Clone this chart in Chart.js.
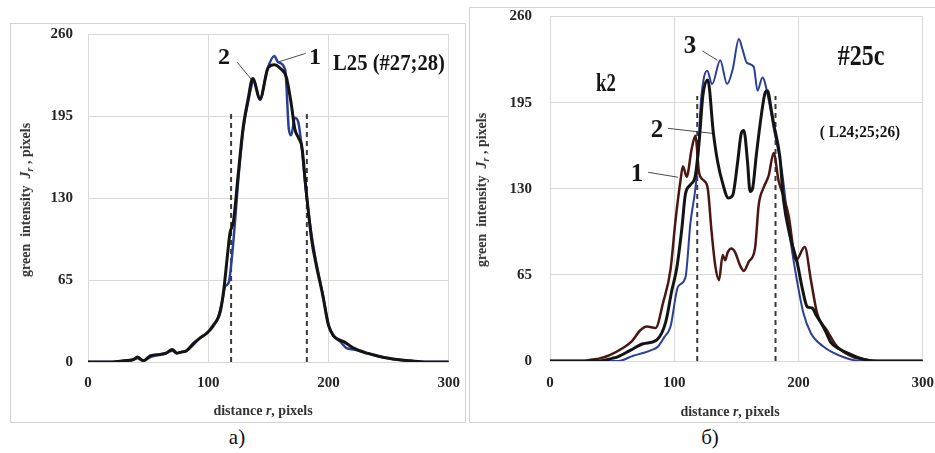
<!DOCTYPE html>
<html>
<head>
<meta charset="utf-8">
<script src="https://cdn.jsdelivr.net/npm/chart.js@4.4.1/dist/chart.umd.min.js"></script>
<style>
  body { margin: 0; width: 935px; height: 453px; background: #fff; position: relative; overflow: hidden; font-family: "Liberation Serif", serif; }
  .frame { position: absolute; border: 1px solid #d2d2d2; box-sizing: border-box; }
  canvas { position: absolute; }
  .lbl { position: absolute; white-space: nowrap; font-weight: bold; color: #151515; line-height: 1; transform: translate(-50%, -50%); }
  .axt { position: absolute; white-space: nowrap; font-weight: bold; color: #333; font-size: 14px; line-height: 1; transform: translate(-50%, -50%); }
  .axt.y { transform: translate(-50%, -50%) rotate(-90deg); }
  .axt sub { font-size: 10px; vertical-align: -3px; font-style: italic; }
  .cap { position: absolute; font-size: 21px; color: #111; transform: translate(-50%, -50%); line-height: 1; }
</style>
</head>
<body>
<div class="frame" style="left:10px;top:23px;width:456px;height:400px"></div>
<div class="frame" style="left:469px;top:7px;width:480px;height:416px"></div>

<!-- canvases are offset so that the plot areas land where the reference has them -->
<canvas id="leftChart" width="463" height="409" style="left:11px;top:12px"></canvas>
<canvas id="rightChart" width="479" height="430" style="left:470px;top:-9px"></canvas>

<!-- axis titles -->
<div class="axt y" style="left:27px;top:200px">green&nbsp;&nbsp;intensity&nbsp;&nbsp;<i>J</i><sub>r</sub> , pixels</div>
<div class="axt" style="left:263px;top:411px">distance <i>r</i>, pixels</div>
<div class="axt y" style="left:483px;top:190px">green&nbsp;&nbsp;intensity&nbsp;&nbsp;<i>J</i><sub>r</sub> , pixels</div>
<div class="axt" style="left:730px;top:412px">distance <i>r</i>, pixels</div>

<!-- annotations -->
<div class="lbl" style="left:224px;top:56px;font-size:24px">2</div>
<div class="lbl" style="left:315px;top:56px;font-size:24px">1</div>
<div class="lbl" style="left:389px;top:62px;font-size:24px;transform:translate(-50%,-50%) scaleX(0.86)">L25 (#27;28)</div>

<div class="lbl" style="left:690px;top:44px;font-size:25px">3</div>
<div class="lbl" style="left:657px;top:128px;font-size:25px">2</div>
<div class="lbl" style="left:637px;top:172px;font-size:25px">1</div>
<div class="lbl" style="left:606px;top:82px;font-size:25px;transform:translate(-50%,-50%) scaleX(0.75)">k2</div>
<div class="lbl" style="left:861px;top:55px;font-size:30px;transform:translate(-50%,-50%) scaleX(0.8)">#25c</div>
<div class="lbl" style="left:860px;top:131px;font-size:17px;transform:translate(-50%,-50%) scaleX(0.9)">( L24;25;26)</div>

<div class="cap" style="left:237px;top:437px">a)</div>
<div class="cap" style="left:710px;top:437px">б)</div>

<script>
// ---- panel a) : L25 (#27;28) ----
const aBlackR = [0, 10, 20, 30, 38, 41, 46, 52, 60, 65, 70, 74, 78, 82, 88, 93, 99, 104, 110, 113, 116, 118, 121, 125, 129, 133, 137, 143, 150, 155, 160, 165, 169, 172, 175, 178, 181, 186, 190, 195, 200, 204, 208, 213, 221, 232, 240, 250, 257, 268, 280, 290, 300];
const aBlackJ = [0, 0, 0, 1, 2, 4, 1, 5, 6, 7, 10, 7, 8, 9, 15, 19, 23, 29, 40, 58, 85, 102, 112, 150, 186, 208, 225, 209, 234, 236, 233, 226, 205, 185, 178, 170, 140, 97, 76, 54, 29, 21, 18, 16, 11, 7, 5, 3, 2, 1, 0, 0, 0];

const aBlueR = [0, 10, 20, 30, 38, 41, 46, 52, 60, 65, 70, 74, 78, 82, 88, 93, 99, 104, 108, 112, 114, 117, 121, 125, 129, 133, 138, 143, 149, 155, 158, 164, 167, 169, 172, 175, 178, 181, 186, 190, 195, 200, 205, 210, 215, 221, 232, 240, 250, 257, 268, 280, 290, 300];
const aBlueJ = [0, 0, 0, 1, 2, 3, 1, 4, 6, 7, 9, 7, 8, 9, 14, 19, 23, 28, 35, 50, 60, 63, 97, 145, 184, 206, 223, 208, 232, 243, 238, 232, 185, 180, 194, 190, 168, 138, 100, 78, 55, 30, 20, 16, 11, 10, 7, 5, 3, 2, 1, 0, 0, 0];

// ---- panel б) : #25c (L24;25;26) ----
const bBlueR = [0, 55, 67, 75, 81, 87, 92, 97, 103, 109, 113, 117, 119, 121, 123.5, 126.5, 130.5, 137, 142.5, 147, 152, 155, 158.5, 164, 167, 171, 176, 180, 187, 192, 196, 204, 210, 220, 236, 250, 300];
const bBlueJ = [0, 0, 4, 6, 8, 11, 18, 26, 56, 63, 104, 130, 150, 190, 212, 219, 209, 227, 209, 220, 243, 235, 225, 222, 204, 214, 197, 176, 141, 101, 76, 36, 21, 11, 3, 0, 0];

const bBlackR = [0, 40, 50, 54, 64.5, 75, 86, 93, 98, 102, 106, 109, 113, 117, 120, 123, 127, 131.5, 135, 139, 143.5, 147, 151, 154, 156, 159, 161, 163, 166, 170, 173, 175, 178, 180, 185, 188, 193, 199, 203, 207, 211, 214, 218, 222, 226, 233, 242, 250, 260, 300];
const bBlackJ = [0, 0, 2, 3, 8, 13, 16, 29, 53, 70, 99, 126, 133, 140, 165, 200, 212, 172, 150, 134, 123, 125, 150, 172, 174, 150, 128, 130, 155, 185, 202, 204, 190, 179, 154, 121, 95, 74, 55, 41, 40, 35, 29, 22, 14, 9, 5, 2, 0, 0];

const bBrownR = [0, 28, 33, 40, 48, 59, 66, 72.5, 78, 85, 91, 97, 101, 105, 107, 110, 114, 117, 120, 124, 127, 130, 133, 136, 139, 141, 143, 146, 149, 153, 156, 160, 165, 168, 172, 176, 180, 184, 188, 192, 198, 205, 210, 215, 223, 231, 244, 255, 265, 300];
const bBrownJ = [0, 0, 1, 2, 4.5, 10, 15, 23, 26, 25, 44, 69, 106, 136, 147, 139, 160, 170, 142, 136, 130, 98, 72, 61, 80, 76, 82, 85, 82, 72, 68, 75, 85, 118, 131, 140, 157, 136, 124, 110, 76, 86, 61, 36, 23, 11, 3, 1, 0, 0];

// dashed guide positions and their height
const aGuides = [119, 182];
const bGuides = [118.5, 181.5];
const guideTop = 200;

// label leader lines: [r0, J0, r1, J1]
const aLeaders = [[124, 238, 137, 223], [181, 245, 157.5, 238]];
const bLeaders = [[122.6, 234, 134.7, 227], [95, 175.6, 130.6, 171.8], [79, 142.4, 103, 138.7]];

const pts = (xs, ys) => xs.map((x, i) => ({ x: x, y: ys[i] }));

function curve(xs, ys, color, width) {
    return { data: pts(xs, ys), borderColor: color, borderWidth: width, pointRadius: 0, cubicInterpolationMode: 'monotone', fill: false };
}

function extras(guides, leaders) {
    const out = [];
    guides.forEach(g => out.push({ data: pts([g, g], [0, guideTop]), borderColor: '#3a3a3a', borderWidth: 2, borderDash: [5, 4], pointRadius: 0 }));
    leaders.forEach(l => out.push({ data: pts([l[0], l[2]], [l[1], l[3]]), borderColor: '#4a4a4a', borderWidth: 1, pointRadius: 0 }));
    return out;
}

const tickFont = { family: 'Liberation Serif', size: 15, weight: 'bold', lineHeight: 1 };

function profileChart(id, datasets, box) {
    return new Chart(document.getElementById(id), {
        type: 'line',
        data: { datasets: datasets },
        options: {
            responsive: false,
            animation: false,
            devicePixelRatio: 1,
            layout: { padding: 0 },
            plugins: { legend: { display: false }, tooltip: { enabled: false } },
            scales: {
                x: {
                    type: 'linear', min: 0, max: 300,
                    ticks: { stepSize: 100, font: tickFont, color: '#262626', padding: box.xPad, maxRotation: 0 },
                    grid: { color: '#d9d9d9', drawTicks: false },
                    border: { color: '#d9d9d9' },
                    afterFit: s => { s.height = box.xH; }
                },
                y: {
                    min: 0, max: 260,
                    ticks: { stepSize: 65, font: tickFont, color: '#262626', padding: box.yPad },
                    grid: { color: '#d9d9d9', drawTicks: false },
                    border: { color: '#d9d9d9' },
                    afterFit: s => { s.width = box.yW; }
                }
            }
        }
    });
}

// first dataset is drawn on top
profileChart('leftChart', [
    curve(aBlackR, aBlackJ, '#141414', 3),
    curve(aBlueR, aBlueJ, '#2b3f94', 2.5),
    ...extras(aGuides, aLeaders)
], { xH: 59, yW: 77, xPad: 14, yPad: 15 });

profileChart('rightChart', [
    curve(bBlackR, bBlackJ, '#141414', 3),
    curve(bBrownR, bBrownJ, '#4a1712', 2.5),
    curve(bBlueR, bBlueJ, '#2b3f94', 2),
    ...extras(bGuides, bLeaders)
], { xH: 60, yW: 80, xPad: 15, yPad: 18 });
</script>
</body>
</html>
